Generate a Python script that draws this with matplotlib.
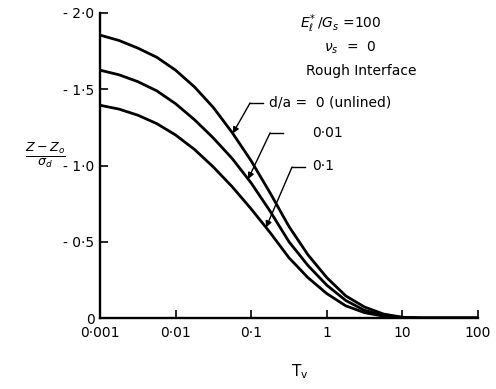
import numpy as np
import matplotlib
matplotlib.use("Agg")
import matplotlib.pyplot as plt

plt.rcParams['font.family'] = ['DejaVu Sans']
plt.rcParams['mathtext.fontset'] = 'dejavusans'

# Time factor T_v
tv = [0.001, 0.00178, 0.00316, 0.00562, 0.01, 0.0178, 0.0316, 0.0562, 0.1, 0.178,
      0.316, 0.562, 1.0, 1.78, 3.16, 5.62, 10.0, 17.8, 31.6, 100.0]

# (Z - Z0)/sigma_d  (plotted as negative values)
unlined = [1.855, 1.82, 1.77, 1.71, 1.625, 1.515, 1.38, 1.215, 1.03, 0.82,
           0.60, 0.415, 0.265, 0.145, 0.072, 0.026, 0.005, 0.0, 0.0, 0.0]
d001 = [1.625, 1.595, 1.55, 1.49, 1.405, 1.30, 1.18, 1.045, 0.885, 0.70,
        0.50, 0.345, 0.215, 0.115, 0.05, 0.017, 0.003, 0.0, 0.0, 0.0]
d01 = [1.395, 1.37, 1.33, 1.275, 1.20, 1.105, 0.99, 0.86, 0.715, 0.56,
       0.395, 0.265, 0.16, 0.08, 0.035, 0.012, 0.002, 0.0, 0.0, 0.0]

series = [unlined, d001, d01]
labels = ["d/a =  0 (unlined)", "0·01", "0·1"]
tips_x = [0.057, 0.091, 0.157]

xticks = [0.001, 0.01, 0.1, 1, 10, 100]
xticklabels = ["0·001", "0·01", "0·1", "1", "10", "100"]
yticks = [0, -0.5, -1.0, -1.5, -2.0]
yticklabels = ["0", "- 0·5", "- 1·0", "- 1·5", "- 2·0"]

fig = plt.figure(figsize=(4.96, 3.89), dpi=100)
ax = fig.add_axes([100/496, 1-318/389, 378/496, 305/389])

lw = 2.0
for s in series:
    ax.plot(tv, [-v for v in s], color='black', lw=lw, solid_capstyle='butt',
            solid_joinstyle='round')

ax.set_xscale('log')
ax.set_xlim(0.001, 100)
ax.set_ylim(0, -2.0)
ax.set_xticks(xticks)
ax.set_xticklabels(xticklabels)
ax.minorticks_off()
ax.set_yticks(yticks)
ax.set_yticklabels(yticklabels)
for sp in ['top', 'right']:
    ax.spines[sp].set_visible(False)
for sp in ['left', 'bottom']:
    ax.spines[sp].set_linewidth(1.7)
ax.tick_params(axis='both', direction='in', length=6, width=1.2, labelsize=10)
ax.tick_params(axis='x', pad=6)
ax.tick_params(axis='y', pad=4)

# axis labels
fig.text(45/496, 1-155/389, r"$\frac{Z-Z_o}{\sigma_d}$", fontsize=13, ha='center', va='center')
fig.text(300/496, 1-372/389, r"$\mathregular{T_v}$", fontsize=11, ha='center', va='center')

# parameter text
fig.text(341/496, 1-24/389, r"$E^{*}_{\ell}\,/G_s$ =100", fontsize=10, ha='center', va='center')
fig.text(350/496, 1-48/389, r"$\nu_s$  =  0", fontsize=10, ha='center', va='center')
fig.text(361/496, 1-71/389, "Rough Interface", fontsize=10, ha='center', va='center')

# leader lines (axes fraction positions)
elbows = [(0.397, 0.705), (0.450, 0.607), (0.508, 0.495)]
ends = [(0.431, 0.705), (0.484, 0.607), (0.542, 0.495)]
text_pos = [(0.448, 0.705), (0.561, 0.607), (0.561, 0.497)]
for s, lab, tx, el, en, tp in zip(series, labels, tips_x, elbows, ends, text_pos):
    ty = -np.interp(np.log10(tx), np.log10(tv), s)
    ax.plot([en[0], el[0]], [en[1], el[1]], color='black', lw=1.0,
            transform=ax.transAxes, clip_on=False)
    ax.annotate("", xy=(tx, ty), xycoords='data', xytext=el, textcoords='axes fraction',
                arrowprops=dict(arrowstyle='-|>', color='black', lw=1.0,
                                mutation_scale=9, shrinkA=0, shrinkB=0))
    ax.text(tp[0], tp[1], lab, transform=ax.transAxes, fontsize=10, ha='left', va='center')

fig.savefig("out.png", dpi=100)
